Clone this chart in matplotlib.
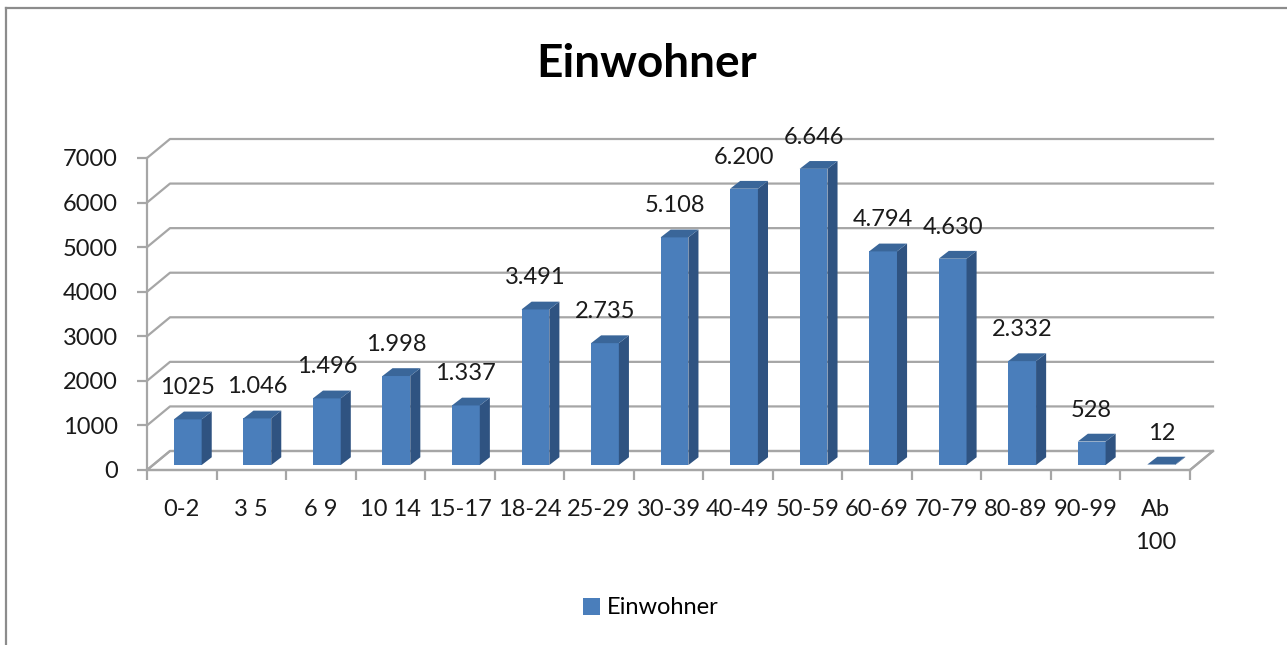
import matplotlib
matplotlib.use("Agg")
import matplotlib.pyplot as plt
from matplotlib.patches import Polygon
from matplotlib.lines import Line2D

categories = ["0-2", "3 5", "6 9", "10 14", "15-17", "18-24", "25-29", "30-39",
              "40-49", "50-59", "60-69", "70-79", "80-89", "90-99", "Ab\n100"]
values = [1025, 1046, 1496, 1998, 1337, 3491, 2735, 5108,
          6200, 6646, 4794, 4630, 2332, 528, 12]
value_labels = ["1025", "1.046", "1.496", "1.998", "1.337", "3.491", "2.735", "5.108",
                "6.200", "6.646", "4.794", "4.630", "2.332", "528", "12"]
yticks = [0, 1000, 2000, 3000, 4000, 5000, 6000, 7000]

plt.rcParams['font.family'] = ['Lato', 'DejaVu Sans']

W, H = 1287, 645
fig = plt.figure(figsize=(W / 100, H / 100), dpi=100)
fig.patch.set_facecolor('white')

# front plane of the plot in pixels
x0px, x1px, y0px, y1px = 147, 1190, 470, 158
ax = fig.add_axes([x0px / W, (H - y0px) / H, (x1px - x0px) / W, (y0px - y1px) / H])
n = len(categories)
ax.set_xlim(-0.5, n - 0.5)
ax.set_ylim(0, 7000)
ax.set_facecolor('none')

# depth offset of the back wall in data units
DX = 23 / ((x1px - x0px) / n)
DY = 19 / ((y0px - y1px) / 7000)

grid_c = '#a6a6a6'
for v in yticks:
    ax.plot([-0.5, -0.5 + DX, n - 0.5 + DX], [v, v + DY, v + DY],
            color=grid_c, lw=1.6, clip_on=False, zorder=1)
# floor outline
ax.plot([n - 0.5, n - 0.5 + DX], [0, DY], color=grid_c, lw=1.6, clip_on=False, zorder=1)
ax.add_patch(Polygon([(-0.5, 0), (n - 0.5, 0), (n - 0.5 + DX, DY), (-0.5 + DX, DY)],
                     closed=True, facecolor='white', edgecolor=grid_c, lw=1.6,
                     clip_on=False, zorder=0.5))

# bars with faux 3d faces
front_c, side_c, top_c = '#4a7ebb', '#2f5381', '#3a6699'
w = 0.40
d0 = 0.26
bdx, bdy = 0.145, 175
xs = list(range(n))
ox, oy = d0 * DX, d0 * DY
bars = ax.bar([x + ox for x in xs], values, width=w, bottom=oy, color=front_c,
              zorder=3, clip_on=False, label='Einwohner')
for x, v, lab in zip(xs, values, value_labels):
    l, r = x + ox - w / 2, x + ox + w / 2
    b, t = oy, oy + v
    ax.add_patch(Polygon([(r, b), (r + bdx, b + bdy), (r + bdx, t + bdy), (r, t)],
                         closed=True, facecolor=side_c, edgecolor='none', zorder=3, clip_on=False))
    ax.add_patch(Polygon([(l, t), (r, t), (r + bdx, t + bdy), (l + bdx, t + bdy)],
                         closed=True, facecolor=top_c, edgecolor='none', zorder=3, clip_on=False))
    ax.annotate(lab, (x + ox, t), xytext=(0, 21), textcoords='offset pixels',
                ha='center', va='bottom', fontsize=17, color='#1a1a1a', zorder=4,
                annotation_clip=False)

# axes
for s in ['top', 'right']:
    ax.spines[s].set_visible(False)
for s in ['left', 'bottom']:
    ax.spines[s].set_color(grid_c)
    ax.spines[s].set_linewidth(1.6)
    ax.spines[s].set_zorder(2)
ax.set_yticks(yticks)
ax.set_yticklabels([str(v) for v in yticks])
ax.set_xticks([x - 0.5 for x in range(n + 1)])
ax.set_xticklabels([])
ax.set_xticks(xs, minor=True)
ax.set_xticklabels(categories, minor=True, fontsize=17, color='#1a1a1a', linespacing=1.7, va='top')
ax.tick_params(axis='x', which='major', direction='out', length=7, width=1.6, color=grid_c)
ax.tick_params(axis='x', which='minor', length=0, pad=21)
ax.tick_params(axis='y', direction='out', length=7, width=1.6, color=grid_c,
               labelsize=17, labelcolor='#1a1a1a', pad=14)

fig.text(647 / W, 1 - 77 / H, 'Einwohner', ha='center', va='baseline',
         fontsize=33, fontweight='bold', color='black')

fig.legend(handles=[bars], labels=['Einwohner'], loc='center', bbox_to_anchor=(651 / W, 1 - 608 / H),
           frameon=False, fontsize=17, handlelength=0.7, handleheight=0.7, handletextpad=0.3)

# chart border
border_c = '#8c8c8c'
fig.add_artist(Line2D([6 / W, 6 / W], [0, 1 - 8 / H], color=border_c, lw=1.6))
fig.add_artist(Line2D([6 / W, 1], [1 - 8 / H, 1 - 8 / H], color=border_c, lw=1.6))

fig.savefig('out.png', dpi=100, facecolor='white')
